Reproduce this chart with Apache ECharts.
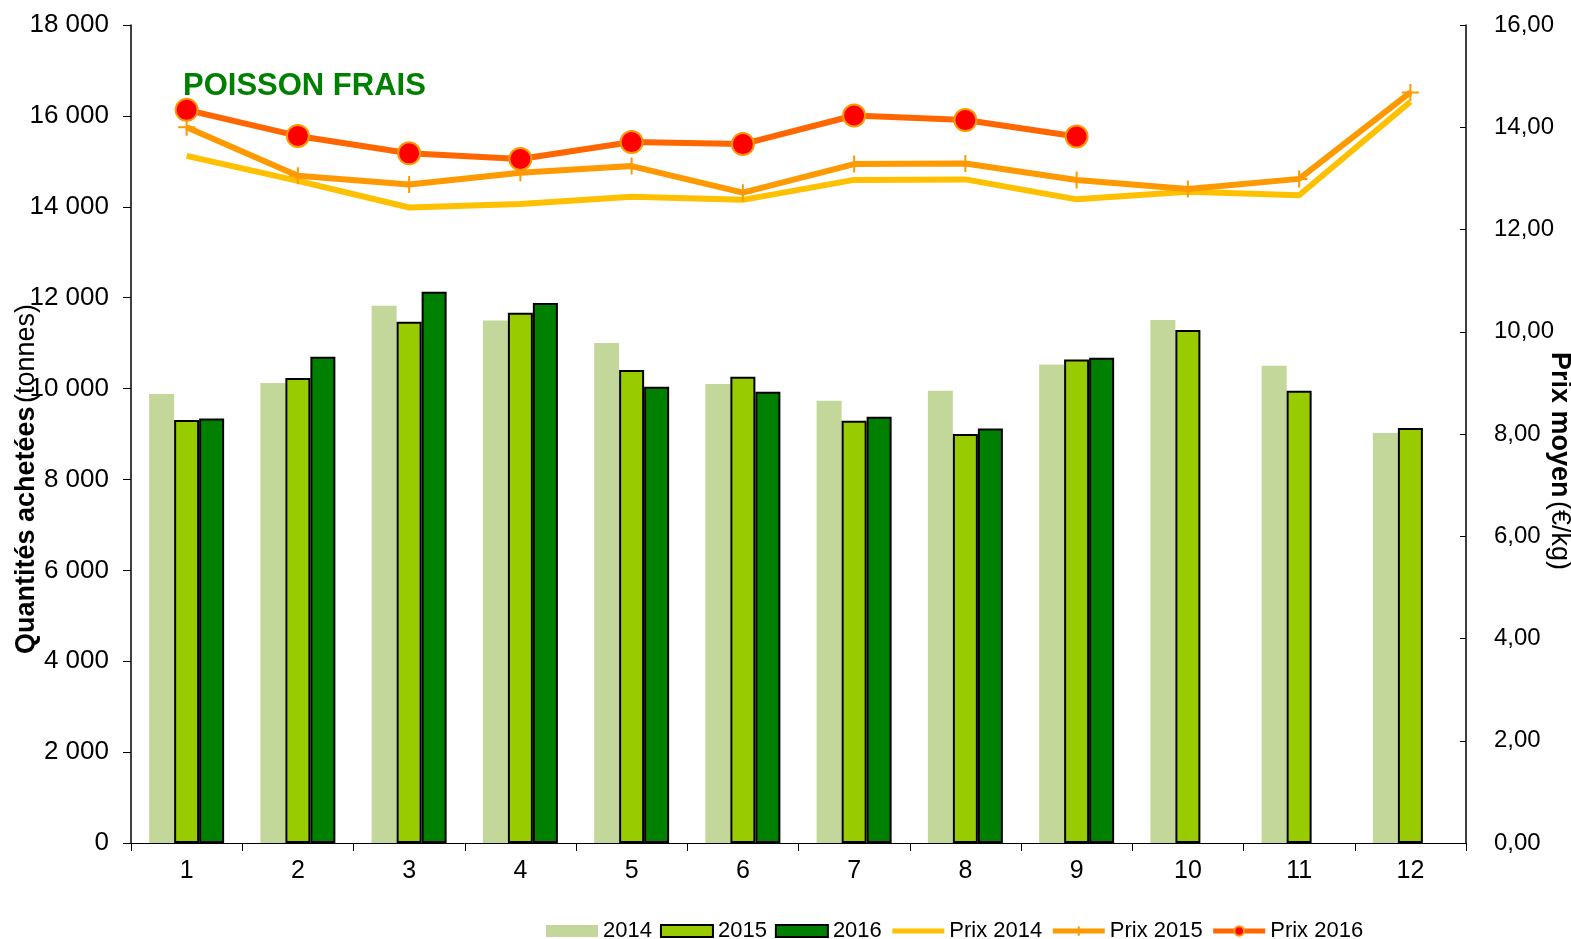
<!DOCTYPE html>
<html>
<head>
<meta charset="utf-8">
<script src="https://cdn.jsdelivr.net/npm/echarts@6/dist/echarts.min.js"></script>
<style>
  html, body { margin: 0; padding: 0; background: #fff; }
  #chart { width: 1571px; height: 939px; }
</style>
</head>
<body>
<div id="chart"></div>
<script>
var months = ['1', '2', '3', '4', '5', '6', '7', '8', '9', '10', '11', '12'];

// quantités achetées (tonnes)
var q2014 = [9880, 10120, 11820, 11500, 11000, 10100, 9730, 9950, 10530, 11510, 10500, 9020];
var q2015 = [9310, 10230, 11470, 11670, 10410, 10260, 9290, 9000, 10640, 11290, 9950, 9130];
var q2016 = [9340, 10700, 12130, 11880, 10040, 9930, 9380, 9120, 10680, null, null, null];

// prix moyen (€/kg)
var p2014 = [13.44, 12.95, 12.43, 12.50, 12.64, 12.58, 12.97, 12.98, 12.59, 12.74, 12.67, 14.50];
var p2015 = [14.00, 13.05, 12.88, 13.11, 13.24, 12.72, 13.28, 13.29, 12.97, 12.79, 12.99, 14.68];
var p2016 = [14.34, 13.83, 13.49, 13.38, 13.71, 13.67, 14.23, 14.14, 13.82, null, null, null];

var font = "'Liberation Sans', Arial, sans-serif";
var plus = 'path://M8,0 L8,16 M0,8 L16,8';

var dom = document.getElementById('chart');
var myChart = echarts.init(dom, null, { renderer: 'canvas' });

var option = {
    backgroundColor: '#fff',
    animation: false,
    textStyle: { fontFamily: font },
    title: {
        text: 'POISSON FRAIS',
        left: 178,
        top: 66,
        textStyle: { color: '#008000', fontSize: 31, fontWeight: 'bold', fontFamily: font }
    },
    grid: { left: 131, right: 105, top: 25, bottom: 96 },
    legend: {
        left: 541,
        top: 915,
        itemWidth: 52,
        itemHeight: 12,
        itemGap: 8,
        textStyle: { fontSize: 22, color: '#000', fontFamily: font },
        data: [
            { name: '2014', icon: 'rect' },
            { name: '2015', icon: 'rect' },
            { name: '2016', icon: 'rect' },
            { name: 'Prix 2014', lineStyle: { width: 5 }, itemStyle: { opacity: 0 } },
            { name: 'Prix 2015', lineStyle: { width: 5 } },
            { name: 'Prix 2016', lineStyle: { width: 5 } }
        ]
    },
    xAxis: {
        type: 'category',
        data: months,
        axisLine: { lineStyle: { color: '#000', width: 1 } },
        axisTick: { show: true, length: 8, lineStyle: { color: '#000' } },
        axisLabel: { color: '#000', fontSize: 25, margin: 16, fontFamily: font },
        splitLine: { show: false }
    },
    yAxis: [
        {
            type: 'value',
            min: 0,
            max: 18000,
            interval: 2000,
            axisLine: { show: true, lineStyle: { color: '#000', width: 1.5 } },
            axisTick: { show: true, length: 8, lineStyle: { color: '#000' } },
            axisLabel: {
                color: '#000', fontSize: 26, margin: 22, fontFamily: font,
                formatter: function (v) {
                    return String(v).replace(/\B(?=(\d{3})+(?!\d))/g, ' ');
                }
            },
            splitLine: { show: false }
        },
        {
            type: 'value',
            position: 'right',
            min: 0,
            max: 16,
            interval: 2,
            axisLine: { show: true, lineStyle: { color: '#000', width: 1.5 } },
            axisTick: { show: true, inside: true, length: 6, lineStyle: { color: '#000' } },
            axisLabel: {
                color: '#000', fontSize: 24, margin: 28, fontFamily: font,
                formatter: function (v) { return v.toFixed(2).replace('.', ','); }
            },
            splitLine: { show: false }
        }
    ],
    graphic: [
        {
            type: 'text',
            x: 27,
            y: 479,
            rotation: Math.PI / 2,
            style: {
                text: '{b|Quantités achetées} {n|(tonnes)}',
                align: 'center',
                verticalAlign: 'middle',
                fill: '#000',
                rich: {
                    b: { fontSize: 27, fontWeight: 'bold', fontFamily: font, fill: '#000' },
                    n: { fontSize: 27, fontFamily: font, fill: '#000' }
                }
            }
        },
        {
            type: 'text',
            x: 1559,
            y: 461,
            rotation: -Math.PI / 2,
            style: {
                text: '{b|Prix moyen} {n|(€/kg)}',
                align: 'center',
                verticalAlign: 'middle',
                fill: '#000',
                rich: {
                    b: { fontSize: 27, fontWeight: 'bold', fontFamily: font, fill: '#000' },
                    n: { fontSize: 27, fontFamily: font, fill: '#000' }
                }
            }
        }
    ],
    series: [
        {
            name: '2014',
            type: 'bar',
            data: q2014,
            barWidth: 25,
            barGap: '0%',
            itemStyle: { color: '#c4d79b' }
        },
        {
            name: '2015',
            type: 'bar',
            data: q2015,
            barWidth: 25,
            barGap: '0%',
            itemStyle: { color: '#99cc00', borderColor: '#000', borderWidth: 2 }
        },
        {
            name: '2016',
            type: 'bar',
            data: q2016,
            barWidth: 25,
            barGap: '0%',
            itemStyle: { color: '#008000', borderColor: '#000', borderWidth: 2 }
        },
        {
            name: 'Prix 2014',
            type: 'line',
            yAxisIndex: 1,
            data: p2014,
            symbol: 'none',
            lineStyle: { color: '#ffc000', width: 6 },
            itemStyle: { color: '#ffc000' },
            z: 3
        },
        {
            name: 'Prix 2015',
            type: 'line',
            yAxisIndex: 1,
            data: p2015,
            symbol: plus,
            symbolSize: 17,
            lineStyle: { color: '#ff9900', width: 6 },
            itemStyle: { color: '#ff9900', borderColor: '#ff9900', borderWidth: 2 },
            z: 4
        },
        {
            name: 'Prix 2016',
            type: 'line',
            yAxisIndex: 1,
            data: p2016,
            symbol: 'circle',
            symbolSize: 22,
            lineStyle: { color: '#ff6600', width: 6 },
            itemStyle: { color: '#ff0000', borderColor: '#ff9900', borderWidth: 2 },
            z: 5
        }
    ]
};

if (option && typeof option === 'object') {
    myChart.setOption(option, true);
}
</script>
</body>
</html>
